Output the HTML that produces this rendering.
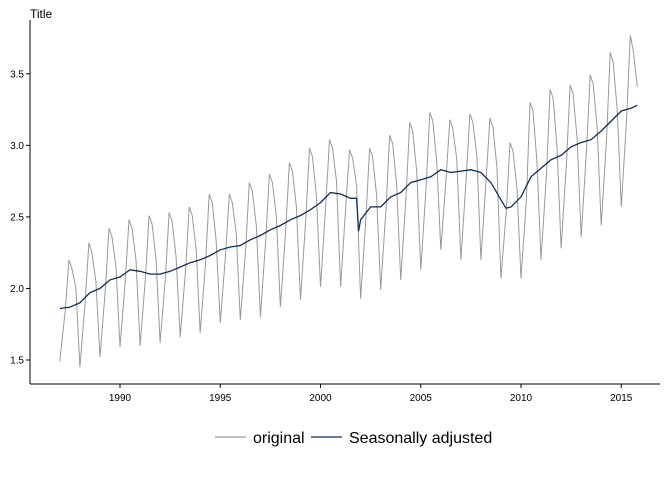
<!DOCTYPE html>
<html><head><meta charset="utf-8"><style>
body{margin:0;background:#fff;}
svg{font-family:"Liberation Sans",Arial,sans-serif;display:block}
</style></head><body>
<svg id="chart" width="672" height="480">
<text x="30" y="18" font-size="12">Title</text>
<path id="orig" fill="none" stroke="#999999" stroke-width="1"></path>
<path id="sa" fill="none" stroke="#0b2f5f" stroke-width="1.3"></path>
<line x1="30" y1="20" x2="30" y2="384" stroke="#000"/>
<line x1="30" y1="384" x2="660" y2="384" stroke="#000"/>
<g>
<g>
<line x1="215" y1="437" x2="246" y2="437" stroke="#999999" stroke-width="1.2"/>
<text x="253" y="443" font-size="16">original</text></g>
<g>
<line x1="311" y1="437" x2="342" y2="437" stroke="#0b2f5f" stroke-width="1.3"/>
<text x="349" y="443" font-size="16">Seasonally adjusted</text></g>
</g>
</svg>
<script>
const years=[1987,1988,1989,1990,1991,1992,1993,1994,1995,1996,1997,1998,1999,2000,2001,2002,2003,2004,2005,2006,2007,2008,2009,2010,2011,2012,2013,2014,2015];
const origJan=[1.49,1.45,1.52,1.59,1.60,1.62,1.66,1.69,1.76,1.78,1.80,1.87,1.92,2.01,2.01,1.93,1.99,2.06,2.13,2.27,2.20,2.20,2.07,2.07,2.20,2.28,2.36,2.44,2.57];
const origApr=[1.85,1.92,2.00,2.07,2.08,2.08,2.13,2.18,2.25,2.28,2.35,2.42,2.50,2.60,2.60,2.50,2.57,2.65,2.72,2.78,2.78,2.78,2.55,2.62,2.80,2.88,2.98,3.05,3.20];
const origJun=[2.20,2.32,2.42,2.48,2.51,2.53,2.57,2.66,2.66,2.74,2.80,2.88,2.98,3.04,2.97,2.98,3.07,3.16,3.23,3.18,3.22,3.19,3.02,3.30,3.39,3.42,3.49,3.65,3.77];
const origAug=[2.14,2.25,2.36,2.42,2.45,2.47,2.51,2.60,2.60,2.68,2.74,2.82,2.92,2.98,2.91,2.92,3.01,3.10,3.17,3.12,3.16,3.13,2.96,3.24,3.33,3.36,3.43,3.58,3.66];
const origOct=[2.00,2.05,2.15,2.20,2.20,2.22,2.27,2.33,2.38,2.44,2.50,2.57,2.64,2.75,2.72,2.65,2.72,2.82,2.88,2.90,2.92,2.85,2.70,2.88,2.98,3.05,3.12,3.25,3.41];
const saTimes=[1987.0,1987.5,1988.0,1988.5,1989.0,1989.5,1990.0,1990.5,1991.0,1991.5,1992.0,1992.5,1993.0,1993.5,1994.0,1994.5,1995.0,1995.5,1996.0,1996.5,1997.0,1997.5,1998.0,1998.5,1999.0,1999.5,2000.0,2000.5,2001.0,2001.5,2001.8,2001.9,2002.0,2002.5,2003.0,2003.5,2004.0,2004.5,2005.0,2005.5,2006.0,2006.5,2007.0,2007.5,2008.0,2008.5,2009.0,2009.25,2009.5,2010.0,2010.5,2011.0,2011.5,2012.0,2012.5,2013.0,2013.5,2014.0,2014.5,2015.0,2015.5,2015.8];
const saValues=[1.86,1.87,1.90,1.97,2.00,2.06,2.08,2.13,2.12,2.10,2.10,2.12,2.15,2.18,2.20,2.23,2.27,2.29,2.30,2.34,2.37,2.41,2.44,2.48,2.51,2.55,2.60,2.67,2.66,2.63,2.63,2.40,2.48,2.57,2.57,2.64,2.67,2.74,2.76,2.78,2.83,2.81,2.82,2.83,2.81,2.74,2.62,2.56,2.57,2.64,2.78,2.84,2.90,2.93,2.99,3.02,3.04,3.10,3.17,3.24,3.26,3.28];
const yTicks=[1.5,2.0,2.5,3.0,3.5];
const xTicks=[1990,1995,2000,2005,2010,2015];

const X=t=>120+(t-1990)*20.05;
const Y=v=>360-(v-1.5)*143.1;
const ns="http://www.w3.org/2000/svg";
const svg=document.getElementById('chart');
function mk(tag,attrs){const e=document.createElementNS(ns,tag);for(const k in attrs)e.setAttribute(k,attrs[k]);svg.appendChild(e);return e;}
yTicks.forEach(v=>{
  const l=mk('line',{x1:26,x2:30,y1:Y(v),y2:Y(v),stroke:'#000'});
  
  
  const t=mk('text',{x:24,y:Y(v)+3.5,'font-size':10,'text-anchor':'end'});
  t.textContent=v.toFixed(1);
  
  
});
xTicks.forEach(v=>{
  const l=mk('line',{x1:X(v),x2:X(v),y1:384,y2:388,stroke:'#000'});
  
  
  const t=mk('text',{x:X(v),y:401,'font-size':10,'text-anchor':'middle'});
  t.textContent=v;
  
  
});
let pts=[];
years.forEach((yr,i)=>{
  pts.push([yr,origJan[i]],[yr+0.27,origApr[i]],[yr+0.45,origJun[i]],[yr+0.6,origAug[i]],[yr+0.8,origOct[i]]);
});
document.getElementById('orig').setAttribute('d',pts.map((p,i)=>(i?'L':'M')+X(p[0]).toFixed(1)+','+Y(p[1]).toFixed(1)).join(''));
document.getElementById('sa').setAttribute('d',saTimes.map((t,i)=>(i?'L':'M')+X(t).toFixed(1)+','+Y(saValues[i]).toFixed(1)).join(''));
</script>
</body></html>
